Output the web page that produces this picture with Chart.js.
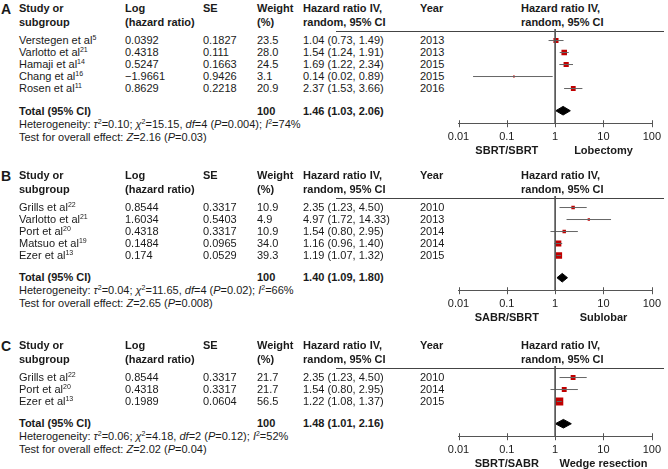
<!DOCTYPE html>
<html>
<head>
<meta charset="utf-8">
<script src="https://cdn.jsdelivr.net/npm/chart.js@4.4.1/dist/chart.umd.min.js"></script>
<style>
html, body { margin: 0; padding: 0; background: #fff; }
#page { position: relative; width: 668px; height: 469px; overflow: hidden;
        font-family: Arial, "Liberation Sans", sans-serif; font-size: 11px; color: #1a1a1a; }
.t { position: absolute; white-space: nowrap; line-height: 14px; height: 14px; }
.b { font-weight: bold; }
.c { transform: translateX(-50%); }
.sup { font-size: 7px; position: relative; top: -4px; }
.letter { font-size: 14px; font-weight: bold; }
.rule { position: absolute; height: 1px; background: #444; }
canvas { position: absolute; }
</style>
</head>
<body>
<div id="page"></div>
<script>
// x axis of every panel
const tickValues = [0.01, 0.1, 1, 10, 100];
const tickLabels = ['0.01', '0.1', '1', '10', '100'];

// A: SBRT vs lobectomy
const aStudies = ['Verstegen et al', 'Varlotto et al', 'Hamaji et al', 'Chang et al', 'Rosen et al'];
const aRefs = ['5', '21', '14', '16', '11'];
const aLogHr = [0.0392, 0.4318, 0.5247, -1.9661, 0.8629];
const aSe = [0.1827, 0.111, 0.1663, 0.9426, 0.2218];
const aWeight = [23.5, 28.0, 24.5, 3.1, 20.9];
const aHr = [1.04, 1.54, 1.69, 0.14, 2.37];
const aLo = [0.73, 1.24, 1.22, 0.02, 1.53];
const aHi = [1.49, 1.91, 2.34, 0.89, 3.66];
const aYear = [2013, 2013, 2015, 2015, 2016];
const aTotal = [1.46, 1.03, 2.06];
const aHet = ['0.10', '15.15', '4', '0.004', '74'];
const aTest = ['2.16', '0.03'];
const aSides = ['SBRT/SBRT', 'Lobectomy'];

// B: SABR vs sublobar
const bStudies = ['Grills et al', 'Varlotto et al', 'Port et al', 'Matsuo et al', 'Ezer et al'];
const bRefs = ['22', '21', '20', '19', '13'];
const bLogHr = [0.8544, 1.6034, 0.4318, 0.1484, 0.174];
const bSe = [0.3317, 0.5403, 0.3317, 0.0965, 0.0529];
const bWeight = [10.9, 4.9, 10.9, 34.0, 39.3];
const bHr = [2.35, 4.97, 1.54, 1.16, 1.19];
const bLo = [1.23, 1.72, 0.80, 0.96, 1.07];
const bHi = [4.50, 14.33, 2.95, 1.40, 1.32];
const bYear = [2010, 2013, 2014, 2014, 2015];
const bTotal = [1.40, 1.09, 1.80];
const bHet = ['0.04', '11.65', '4', '0.02', '66'];
const bTest = ['2.65', '0.008'];
const bSides = ['SABR/SBRT', 'Sublobar'];

// C: SBRT vs wedge resection
const cStudies = ['Grills et al', 'Port et al', 'Ezer et al'];
const cRefs = ['22', '20', '13'];
const cLogHr = [0.8544, 0.4318, 0.1989];
const cSe = [0.3317, 0.3317, 0.0604];
const cWeight = [21.7, 21.7, 56.5];
const cHr = [2.35, 1.54, 1.22];
const cLo = [1.23, 0.80, 1.08];
const cHi = [4.50, 2.95, 1.37];
const cYear = [2010, 2014, 2015];
const cTotal = [1.48, 1.01, 2.16];
const cHet = ['0.06', '4.18', '2', '0.12', '52'];
const cTest = ['2.02', '0.04'];
const cSides = ['SBRT/SABR', 'Wedge resection'];

const panels = [
  { letter: 'A', top: 8.3, studies: aStudies, refs: aRefs, logHr: aLogHr, se: aSe, weight: aWeight,
    hr: aHr, lo: aLo, hi: aHi, year: aYear, total: aTotal, het: aHet, test: aTest, sides: aSides },
  { letter: 'B', top: 175, studies: bStudies, refs: bRefs, logHr: bLogHr, se: bSe, weight: bWeight,
    hr: bHr, lo: bLo, hi: bHi, year: bYear, total: bTotal, het: bHet, test: bTest, sides: bSides },
  { letter: 'C', top: 345, studies: cStudies, refs: cRefs, logHr: cLogHr, se: cSe, weight: cWeight,
    hr: cHr, lo: cLo, hi: cHi, year: cYear, total: cTotal, het: cHet, test: cTest, sides: cSides }
];

Chart.defaults.font.family = 'Arial, "Liberation Sans", sans-serif';
Chart.defaults.font.size = 11;
Chart.defaults.color = '#1a1a1a';

const page = document.getElementById('page');

function addText(x, y, html, cls) {
  const d = document.createElement('div');
  d.className = 't' + (cls ? ' ' + cls : '');
  d.style.left = x + 'px';
  d.style.top = (y - 7) + 'px';
  d.innerHTML = html;
  page.appendChild(d);
}

const ci = (h, l, u) => h.toFixed(2) + ' (' + l.toFixed(2) + ', ' + u.toFixed(2) + ')';
const sup = s => '<span class="sup">' + s + '</span>';

// small tick marks crossing the axis line
const tickMarks = {
  id: 'tickMarks',
  afterDraw(chart) {
    const xs = chart.scales.x, ctx = chart.ctx, y = chart.chartArea.bottom;
    ctx.save();
    ctx.strokeStyle = '#555';
    ctx.lineWidth = 1;
    xs.ticks.forEach(t => {
      const x = Math.round(xs.getPixelForValue(t.value)) + 0.5;
      ctx.beginPath();
      ctx.moveTo(x, y - 3.5);
      ctx.lineTo(x, y + 3.5);
      ctx.stroke();
    });
    ctx.restore();
  }
};

panels.forEach(p => {
  const n = p.studies.length;
  const top = p.top;
  const rowY = i => top + 32 + 12 * i;
  const totalRow = n + 0.85;
  const totalY = rowY(totalRow);

  // header
  addText(1, top + 1, p.letter, 'letter');
  addText(19, top, 'Study or', 'b');
  addText(19, top + 13.5, 'subgroup', 'b');
  addText(125, top, 'Log', 'b');
  addText(125, top + 13.5, '(hazard ratio)', 'b');
  addText(203, top, 'SE', 'b');
  addText(257, top, 'Weight', 'b');
  addText(257, top + 13.5, '(%)', 'b');
  addText(303, top, 'Hazard ratio IV,', 'b');
  addText(303, top + 13.5, 'random, 95% CI', 'b');
  addText(420, top, 'Year', 'b');
  addText(521, top, 'Hazard ratio IV,', 'b');
  addText(521, top + 13.5, 'random, 95% CI', 'b');

  const ruleY = top + 23.5;
  const rule = document.createElement('div');
  rule.className = 'rule';
  rule.style.left = '336px';
  rule.style.width = '328px';
  rule.style.top = Math.round(ruleY - 0.5) + 'px';
  page.appendChild(rule);

  // study rows
  p.studies.forEach((s, i) => {
    const y = rowY(i);
    addText(19, y, s + sup(p.refs[i]));
    addText(125, y, String(p.logHr[i]).replace('-', '\u2212'));
    addText(203, y, String(p.se[i]));
    addText(257, y, p.weight[i].toFixed(1));
    addText(303, y, ci(p.hr[i], p.lo[i], p.hi[i]));
    addText(420, y, String(p.year[i]));
  });

  addText(19, totalY, 'Total (95% CI)', 'b');
  addText(257, totalY, '100', 'b');
  addText(303, totalY, ci(p.total[0], p.total[1], p.total[2]), 'b');
  addText(19, totalY + 13,
    'Heterogeneity: <i>\u03c4</i>' + sup('2') + '=' + p.het[0] + '; <i>\u03c7</i>' + sup('2') + '=' + p.het[1] +
    ', <i>df</i>=' + p.het[2] + ' (<i>P</i>=' + p.het[3] + '); <i>I</i>' + sup('2') + '=' + p.het[4] + '%');
  addText(19, totalY + 26, 'Test for overall effect: <i>Z</i>=' + p.test[0] + ' (<i>P</i>=' + p.test[1] + ')');

  // plot
  const yMin = -0.71, yMax = totalRow + 13 / 12;
  const areaH = (yMax - yMin) * 12;
  const padTop = 12;
  const canvasH = Math.ceil(padTop + areaH + 45);
  const canvas = document.createElement('canvas');
  canvas.width = 338;
  canvas.height = canvasH;
  canvas.style.left = '330px';
  canvas.style.top = (ruleY - padTop) + 'px';
  canvas.style.width = '338px';
  canvas.style.height = canvasH + 'px';
  page.appendChild(canvas);

  const datasets = [];
  datasets.push({
    data: [{ x: 1, y: yMin - 0.25 }, { x: 1, y: yMax }],
    borderColor: '#555', borderWidth: 1, pointRadius: 0, clip: false
  });
  p.studies.forEach((s, i) => {
    datasets.push({
      data: [{ x: p.lo[i], y: i }, { x: p.hi[i], y: i }],
      borderColor: '#666', borderWidth: 1, pointRadius: 0
    });
  });
  datasets.push({
    data: p.hr.map((h, i) => ({ x: h, y: i })),
    showLine: false,
    pointStyle: 'rect',
    pointRadius: p.weight.map(w => 1.05 * Math.sqrt(w) / Math.SQRT2),
    backgroundColor: '#c00000', borderWidth: 0
  });
  const t = p.total;
  datasets.push({
    data: [{ x: t[1], y: totalRow }, { x: t[0], y: totalRow - 0.36 }, { x: t[2], y: totalRow },
           { x: t[0], y: totalRow + 0.36 }, { x: t[1], y: totalRow }],
    borderColor: '#000', backgroundColor: '#000', borderWidth: 1, pointRadius: 0, fill: 'shape'
  });

  const chart = new Chart(canvas.getContext('2d'), {
    type: 'line',
    data: { datasets: datasets },
    options: {
      responsive: false,
      animation: false,
      events: [],
      elements: { line: { tension: 0 } },
      layout: { padding: { left: 128.5, right: 9, top: padTop, bottom: 20 } },
      plugins: { legend: { display: false }, tooltip: { enabled: false } },
      scales: {
        x: {
          type: 'logarithmic',
          min: 0.01,
          max: 100,
          afterBuildTicks: scale => { scale.ticks = tickValues.map(v => ({ value: v })); },
          ticks: { padding: 7, color: '#1a1a1a', maxRotation: 0, autoSkip: false,
                   callback: (v, i) => tickLabels[i] },
          grid: { display: false, drawTicks: false },
          border: { display: true, color: '#555', width: 1 }
        },
        y: { type: 'linear', display: false, reverse: true, min: yMin, max: yMax }
      }
    },
    plugins: [tickMarks]
  });

  // nudge the padding so the plot area lands where the reference has it
  for (let k = 0; k < 3; k++) {
    const a = chart.chartArea;
    const pad = chart.options.layout.padding;
    pad.left += 128.5 - a.left;
    pad.right += a.right - 329;
    pad.top += padTop - a.top;
    pad.bottom += a.bottom - (padTop + areaH);
    chart.update();
  }

  const xs = chart.scales.x;
  addText(330 + xs.getPixelForValue(0.1), totalY + 39.5, p.sides[0], 'b c');
  addText(330 + xs.getPixelForValue(10), totalY + 39.5, p.sides[1], 'b c');
});
</script>
</body>
</html>
